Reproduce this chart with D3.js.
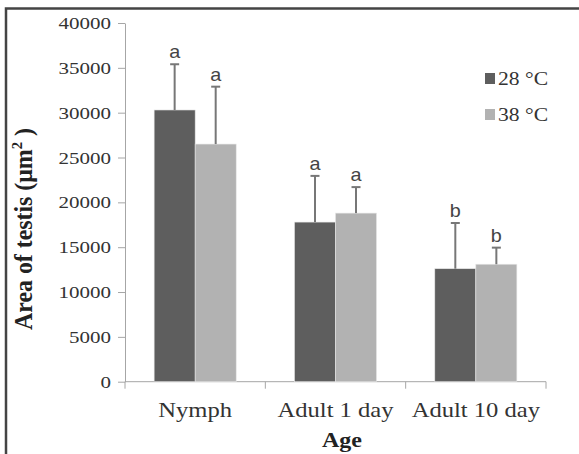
<!DOCTYPE html>
<html>
<head>
<meta charset="utf-8">
<script src="https://cdn.jsdelivr.net/npm/d3@7"></script>
<style>
  body { margin: 0; background: #fff; }
</style>
</head>
<body>
<svg id="chart" width="579" height="454"></svg>
<script>
const ages = ["Nymph", "Adult 1 day", "Adult 10 day"];
const temps = ["28 °C", "38 °C"];
const means28 = [30300, 17800, 12600];
const means38 = [26500, 18800, 13100];
const err28 = [5100, 5150, 5100];
const err38 = [6400, 2900, 1850];
const letters28 = ["a", "a", "b"];
const letters38 = ["a", "a", "b"];
const yTicks = [0, 5000, 10000, 15000, 20000, 25000, 30000, 35000, 40000];
const colours = ["#5e5e5e", "#b2b2b2"];

const svg = d3.select("#chart");
const plotLeft = 125, plotRight = 546, plotTop = 23, plotBottom = 381.7;
const SERIF = "Liberation Serif, Times New Roman, serif";
const STRETCH = 1.2; // the picture is a bit wider than tall

// frame (left + top only visible)
svg.append("path")
  .attr("d", "M6,454 V8.5 H579")
  .attr("fill", "none")
  .attr("stroke", "#444")
  .attr("stroke-width", 2.5);

const x = d3.scaleBand().domain(ages).range([plotLeft, plotRight]);
const xInner = d3.scaleBand().domain(temps).range([0, x.bandwidth()]).paddingOuter(0.71).paddingInner(0);
const y = d3.scaleLinear().domain([0, 40000]).range([plotBottom, plotTop]);

const rows = [];
ages.forEach((a, i) => {
  rows.push({ age: a, temp: temps[0], v: means28[i], e: err28[i], l: letters28[i], c: colours[0] });
  rows.push({ age: a, temp: temps[1], v: means38[i], e: err38[i], l: letters38[i], c: colours[1] });
});

// axes
const yAxis = svg.append("g")
  .attr("transform", `translate(${plotLeft},0)`)
  .call(d3.axisLeft(y).tickValues(yTicks).tickSize(7).tickSizeOuter(0).tickFormat(d3.format("d")));
yAxis.select(".domain").attr("stroke", "#a6a6a6");
yAxis.selectAll(".tick line").attr("stroke", "#a6a6a6");
yAxis.selectAll("text")
  .attr("font-family", SERIF)
  .attr("font-size", 17.5)
  .attr("fill", "#333")
  .attr("x", 0)
  .attr("transform", `translate(-14,0) scale(${STRETCH},1)`);

const xAxis = svg.append("g")
  .attr("transform", `translate(0,${plotBottom})`);
xAxis.append("line")
  .attr("x1", plotLeft).attr("x2", plotRight)
  .attr("stroke", "#a6a6a6");
xAxis.selectAll("line.tk")
  .data(ages.map(a => x(a)).concat([plotRight]))
  .enter().append("line")
  .attr("class", "tk")
  .attr("x1", d => d).attr("x2", d => d)
  .attr("y1", 0).attr("y2", 7)
  .attr("stroke", "#a6a6a6");
xAxis.selectAll("text")
  .data(ages)
  .enter().append("text")
  .attr("transform", d => `translate(${x(d) + x.bandwidth() / 2},35) scale(${STRETCH},1)`)
  .attr("text-anchor", "middle")
  .attr("font-family", SERIF)
  .attr("font-size", 20.5)
  .attr("fill", "#333")
  .text(d => d);

// bars
const bars = svg.append("g");
bars.selectAll("rect")
  .data(rows)
  .enter().append("rect")
  .attr("x", d => x(d.age) + xInner(d.temp))
  .attr("y", d => y(d.v))
  .attr("width", xInner.bandwidth())
  .attr("height", d => y(0) - y(d.v))
  .attr("fill", d => d.c)
  .attr("stroke", "#e6e6e6")
  .attr("stroke-width", 0.6);

// error bars
const cx = d => x(d.age) + xInner(d.temp) + xInner.bandwidth() / 2;
bars.selectAll("line.err")
  .data(rows)
  .enter().append("line")
  .attr("class", "err")
  .attr("x1", cx).attr("x2", cx)
  .attr("y1", d => y(d.v)).attr("y2", d => y(d.v + d.e))
  .attr("stroke", "#777").attr("stroke-width", 2);
bars.selectAll("line.cap")
  .data(rows)
  .enter().append("line")
  .attr("class", "cap")
  .attr("x1", d => cx(d) - 4.5).attr("x2", d => cx(d) + 4.5)
  .attr("y1", d => y(d.v + d.e)).attr("y2", d => y(d.v + d.e))
  .attr("stroke", "#777").attr("stroke-width", 2);
bars.selectAll("text")
  .data(rows)
  .enter().append("text")
  .attr("transform", d => `translate(${cx(d)},${y(d.v + d.e) - 6}) scale(1.1,1)`)
  .attr("text-anchor", "middle")
  .attr("font-family", "Liberation Sans, Arial, sans-serif")
  .attr("font-size", 18)
  .attr("fill", "#444")
  .text(d => d.l);

// legend
const legend = svg.append("g").attr("transform", "translate(485,0)");
legend.selectAll("rect")
  .data(temps)
  .enter().append("rect")
  .attr("x", 0)
  .attr("y", (d, i) => 73 + i * 36)
  .attr("width", 10).attr("height", 11)
  .attr("fill", (d, i) => colours[i]);
legend.selectAll("text")
  .data(temps)
  .enter().append("text")
  .attr("transform", (d, i) => `translate(13,${85 + i * 36}) scale(${STRETCH},1)`)
  .attr("font-family", SERIF)
  .attr("font-size", 18)
  .attr("fill", "#333")
  .text(d => d);

// axis titles
svg.append("text")
  .attr("transform", `translate(32,229) scale(${STRETCH},1) rotate(-90)`)
  .attr("text-anchor", "middle")
  .attr("font-family", SERIF)
  .attr("font-weight", "bold")
  .attr("font-size", 21)
  .attr("fill", "#222")
  .attr("textLength", 202)
  .attr("lengthAdjust", "spacingAndGlyphs")
  .html("Area of testis (μm<tspan dy='-8' font-size='13'>2</tspan><tspan dy='8'> )</tspan>");
svg.append("text")
  .attr("transform", `translate(342,447) scale(${STRETCH},1)`)
  .attr("text-anchor", "middle")
  .attr("font-family", SERIF)
  .attr("font-weight", "bold")
  .attr("font-size", 20)
  .attr("fill", "#222")
  .text("Age");
</script>
</body>
</html>
